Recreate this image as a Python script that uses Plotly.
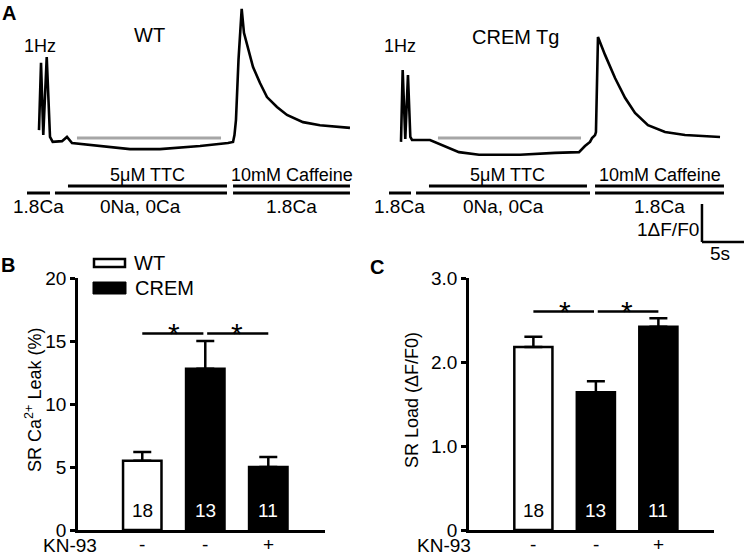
import plotly.graph_objects as go

W, H = 744, 555
FONT = "Liberation Sans"

# ---------------- Panel A data: fluorescence traces (time s, ΔF/F0) ----------------
wt_t = [0, 0.24, 0.51, 0.92, 1.31, 1.63, 2.74, 3.33, 3.93, 7.26, 10.83, 14.40, 19.17,
        22.50, 23.10, 23.27, 23.45, 23.75, 24.13, 24.40, 24.73, 25.48, 26.31, 27.14,
        28.33, 29.52, 31.43, 33.45, 37.02]
wt_v = [0.26, 2.03, 0.13, 2.18, 0.08, -0.05, -0.03, 0.08, -0.08, -0.16, -0.24, -0.24,
        -0.16, -0.08, -0.05, 0.13, 0.53, 2.11, 3.45, 2.82, 2.55, 1.92, 1.50, 1.13,
        0.87, 0.66, 0.47, 0.39, 0.32]

crem_t = [0, 0.20, 0.51, 0.83, 1.11, 1.31, 3.45, 4.88, 6.90, 9.29, 14.17, 18.33, 21.19,
          21.90, 22.50, 22.74, 23.10, 23.21, 23.45, 24.29, 25.48, 26.67, 27.86, 29.40,
          31.43, 33.81, 37.98]
crem_v = [-0.05, 1.84, 0.03, 1.71, 0.08, 0.00, 0.00, -0.13, -0.32, -0.39, -0.39, -0.34,
          -0.32, -0.16, -0.05, 0.05, 0.13, 0.21, 2.71, 2.24, 1.63, 1.11, 0.71, 0.39,
          0.21, 0.13, 0.08]

# solution periods (s): label, start, end
wt_bath = [("1.8Ca", -1.43, 1.31), ("0Na, 0Ca", 1.90, 22.38), ("1.8Ca", 23.10, 37.02)]
wt_drug = [("5μM TTC", 3.45, 22.38), ("10mM Caffeine", 23.10, 37.02)]
wt_leak = (4.52, 21.67, 0.05)
crem_bath = [("1.8Ca", -1.43, 1.19), ("0Na, 0Ca", 1.79, 22.50), ("1.8Ca", 23.10, 38.45)]
crem_drug = [("5μM TTC", 3.33, 22.14), ("10mM Caffeine", 23.10, 38.45)]
crem_leak = (4.40, 21.43, 0.05)
scale_t0, scale_v0, scale_dt, scale_dv = 35.83, -2.684, 5, 1

# ---------------- Panels B, C data ----------------
groups = [0, 1, 2]
kn93 = ["-", "-", "+"]
n_cells = [18, 13, 11]
leak_mean = [5.5, 12.8, 5.0]
leak_sem = [0.7, 2.2, 0.8]
load_mean = [2.18, 1.64, 2.42]
load_sem = [0.12, 0.13, 0.10]
leak_sig_y = 15.6
load_sig_y = 2.6


def X(px):
    return px / W


def Y(py):
    return 1 - py / H


fig = go.Figure()

fig.add_trace(go.Scatter(x=wt_t, y=wt_v, mode="lines", line=dict(color="black", width=2.6),
                         xaxis="x", yaxis="y", showlegend=False, hoverinfo="skip"))
fig.add_trace(go.Scatter(x=crem_t, y=crem_v, mode="lines", line=dict(color="black", width=2.6),
                         xaxis="x2", yaxis="y2", showlegend=False, hoverinfo="skip"))

shapes = []
annots = []


def txt(x, y, s, size=18, xanchor="center", yanchor="middle", xref="paper", yref="paper",
        bold=False, color="black", angle=0, yshift=0):
    annots.append(dict(x=x, y=y, xref=xref, yref=yref, text=("<b>%s</b>" % s) if bold else s,
                       showarrow=False, xanchor=xanchor, yanchor=yanchor, textangle=angle,
                       yshift=yshift, borderpad=0,
                       font=dict(family=FONT, size=size, color=color)))


for xa, bath, drug, leak in (("x", wt_bath, wt_drug, wt_leak), ("x2", crem_bath, crem_drug, crem_leak)):
    for lab, a, b in bath:
        shapes.append(dict(type="line", xref=xa, yref="paper", x0=a, x1=b, y0=Y(193), y1=Y(193),
                           line=dict(color="black", width=3)))
        txt((a + b) / 2, Y(207), lab, xref=xa, size=19)
    for lab, a, b in drug:
        shapes.append(dict(type="line", xref=xa, yref="paper", x0=a, x1=b, y0=Y(186), y1=Y(186),
                           line=dict(color="black", width=3)))
        txt((a + b) / 2, Y(175), lab, xref=xa)
    ya = "y" if xa == "x" else "y2"
    shapes.append(dict(type="line", xref=xa, yref=ya, x0=leak[0], x1=leak[1], y0=leak[2], y1=leak[2],
                       line=dict(color="#a6a6a6", width=3)))

# scale bar
shapes.append(dict(type="line", xref="x2", yref="y2", x0=scale_t0, x1=scale_t0,
                   y0=scale_v0, y1=scale_v0 + scale_dv, line=dict(color="black", width=2.5)))
shapes.append(dict(type="line", xref="x2", yref="y2", x0=scale_t0, x1=scale_t0 + scale_dt,
                   y0=scale_v0, y1=scale_v0, line=dict(color="black", width=2.5)))
txt(X(700), Y(229), "1ΔF/F0", xanchor="right", size=19)
txt(X(720), Y(253), "5s", size=19)

txt(X(40), Y(46), "1Hz")
txt(X(149), Y(35), "WT", size=20)
txt(X(400), Y(46), "1Hz")
txt(X(515), Y(37), "CREM Tg", size=20)

# panel letters
txt(X(9), Y(13), "A", size=20, bold=True)
txt(X(8), Y(265), "B", size=20, bold=True)
txt(X(377), Y(267), "C", size=20, bold=True)

# ---------------- Bars ----------------
colors = ["white", "black", "black"]
for xa, ya, mean, sem in (("x3", "y3", leak_mean, leak_sem), ("x4", "y4", load_mean, load_sem)):
    fig.add_trace(go.Bar(x=groups, y=mean, xaxis=xa, yaxis=ya, width=0.61,
                         marker=dict(color=colors, line=dict(color="black", width=2.5)),
                         error_y=dict(type="data", array=sem, arrayminus=[0, 0, 0], symmetric=False,
                                      color="black", thickness=2.5, width=9),
                         showlegend=False, hoverinfo="skip"))
    for g, n, c in zip(groups, n_cells, colors):
        txt(g, 0, str(n), xref=xa, yref=ya, yshift=20, size=19,
            color="black" if c == "white" else "white")
    for g, k in zip(groups, kn93):
        txt(g, Y(544), k, xref=xa, size=19)
    sig = leak_sig_y if xa == "x3" else load_sig_y
    for a, b in ((0, 1), (1, 2)):
        shapes.append(dict(type="line", xref=xa, yref=ya, x0=a + (0.03 if a == 1 else 0),
                           x1=b - (0.03 if b == 1 else 0), y0=sig, y1=sig,
                           line=dict(color="black", width=2.5)))
        txt((a + b) / 2, sig, "*", xref=xa, yref=ya, size=30, yshift=0)

txt(X(70), Y(545), "KN-93", size=19)
txt(X(444), Y(545), "KN-93", size=19)
txt(X(33), Y(400), "SR Ca<sup>2+</sup> Leak (%)", angle=-90)
txt(X(412), Y(400), "SR Load (ΔF/F0)", angle=-90)

# legend (drawn key)
shapes.append(dict(type="rect", xref="paper", yref="paper", x0=X(94), x1=X(125), y0=Y(267), y1=Y(259),
                   fillcolor="white", line=dict(color="black", width=2.5)))
shapes.append(dict(type="rect", xref="paper", yref="paper", x0=X(93), x1=X(126), y0=Y(294), y1=Y(282),
                   fillcolor="black", line=dict(color="black", width=1)))
txt(X(133), Y(263), "WT", xanchor="left", size=20)
txt(X(134), Y(288), "CREM", xanchor="left", size=20)

ydom_tr = [Y(270), 1]
ydom_bar = [Y(530), Y(278)]
hidden = dict(visible=False, fixedrange=True)
bar_y = dict(showline=True, linecolor="black", linewidth=2.5, ticks="outside", ticklen=5,
             tickwidth=2.5, tickcolor="black", showgrid=False, zeroline=False,
             tickfont=dict(family=FONT, size=19, color="black"))
bar_x = dict(showline=True, linecolor="black", linewidth=2.5, ticks="", showticklabels=False,
             showgrid=False, zeroline=False)

fig.update_layout(
    width=W, height=H, margin=dict(l=0, r=0, t=0, b=0, autoexpand=False),
    paper_bgcolor="white", plot_bgcolor="rgba(0,0,0,0)",
    font=dict(family=FONT, size=18, color="black"),
    xaxis=dict(domain=[0, 0.5], range=[(0 - 39) / 8.4, (372 - 39) / 8.4], **hidden),
    yaxis=dict(domain=ydom_tr, range=[(140 - 270) / 38, 140 / 38], **hidden),
    xaxis2=dict(domain=[0.5, 1], range=[(372 - 401) / 8.4, (744 - 401) / 8.4], anchor="y2", **hidden),
    yaxis2=dict(domain=ydom_tr, range=[(140 - 270) / 38, 140 / 38], anchor="x2", **hidden),
    xaxis3=dict(domain=[X(78), X(325)], range=[-1.02, 2.9], anchor="y3", **bar_x),
    yaxis3=dict(domain=ydom_bar, range=[0, 20], anchor="x3", tickvals=[0, 5, 10, 15, 20], **bar_y),
    xaxis4=dict(domain=[X(469), X(714)], range=[-1.03, 2.89], anchor="y4", **bar_x),
    yaxis4=dict(domain=ydom_bar, range=[0, 3.0], anchor="x4", tickvals=[0, 1, 2, 3],
                ticktext=["0", "1.0", "2.0", "3.0"], **bar_y),
    shapes=shapes, annotations=annots,
)

fig.write_html("out.html", config={"displayModeBar": False},
               post_script="document.body.style.margin='0px';document.body.style.overflow='hidden';")
